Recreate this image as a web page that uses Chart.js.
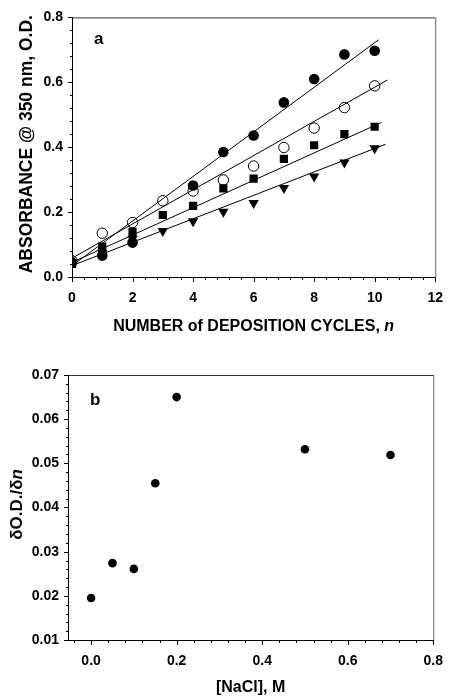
<!DOCTYPE html>
<html><head><meta charset="utf-8">
<script src="https://cdn.jsdelivr.net/npm/chart.js@4/dist/chart.umd.min.js"></script>
<style>
html,body{margin:0;padding:0;background:#fff;width:456px;height:698px;overflow:hidden}
canvas{position:absolute;left:0}
#c1{top:0}
#c2{top:345px}
</style></head><body>
<canvas id="c1" width="456" height="345"></canvas>
<canvas id="c2" width="456" height="353"></canvas>
<script>
// ---- Panel a data ----
const cycles = [0, 1, 2, 3, 4, 5, 6, 7, 8, 9, 10];
const filledCircle = [0.045, 0.066, 0.106, null, 0.282, 0.385, 0.436, 0.538, 0.610, 0.686, 0.697];
const openCircle   = [0.050, 0.135, 0.168, 0.235, 0.265, 0.299, 0.342, 0.399, 0.459, 0.522, 0.589];
const filledSquare = [0.040, 0.094, 0.139, 0.191, 0.219, 0.273, 0.303, 0.364, 0.406, 0.440, 0.463];
const downTriangle = [0.045, 0.075, 0.118, 0.142, 0.172, 0.201, 0.228, 0.274, 0.310, 0.353, 0.397];
// linear fit lines: [x start, x end], [y start, y end]
const fitFilledCircleX = [0, 10.13], fitFilledCircleY = [0.035, 0.731];
const fitOpenCircleX   = [0, 10.42], fitOpenCircleY   = [0.058, 0.607];
const fitSquareX       = [0, 10.22], fitSquareY       = [0.045, 0.476];
const fitTriangleX     = [0, 10.36], fitTriangleY     = [0.035, 0.409];
const ticksAX = [0, 2, 4, 6, 8, 10, 12];
const ticksAY = [0.0, 0.2, 0.4, 0.6, 0.8];

// ---- Panel b data ----
const nacl  = [0.0, 0.05, 0.10, 0.15, 0.20, 0.50, 0.70];
const slope = [0.0195, 0.0274, 0.0261, 0.0455, 0.0650, 0.0532, 0.0519];
const ticksBX = [0.0, 0.2, 0.4, 0.6, 0.8];
const ticksBY = [0.01, 0.02, 0.03, 0.04, 0.05, 0.06, 0.07];

const FONT = '"Liberation Sans", Arial, Helvetica, sans-serif';

function pts(xs, ys) {
  const out = [];
  xs.forEach((x, i) => { if (ys[i] !== null && ys[i] !== undefined) out.push({x: x, y: ys[i]}); });
  return out;
}

function fitDs(xs, ys) {
  return {data: pts(xs, ys), showLine: true, borderColor: '#000', borderWidth: 1,
          pointRadius: 0, pointHoverRadius: 0, fill: false, order: 10};
}

// plugin: frame, outward ticks (major+minor), titles and panel letters
function decor(cfg) {
  return {
    id: 'decor',
    afterDraw(chart) {
      const ctx = chart.ctx, a = chart.chartArea;
      const xs = chart.scales.x, ys = chart.scales.y;
      ctx.save();
      ctx.lineWidth = 1;
      ctx.strokeStyle = '#000';
      ctx.beginPath();
      ctx.moveTo(a.left + 0.5, a.top + 0.5);
      ctx.lineTo(a.left + 0.5, a.bottom + 0.5);
      ctx.lineTo(a.right + 0.5, a.bottom + 0.5);
      ctx.stroke();
      ctx.strokeStyle = '#333';
      ctx.beginPath();
      ctx.moveTo(a.left + 0.5, a.top + 0.5);
      ctx.lineTo(a.right + 0.5, a.top + 0.5);
      ctx.stroke();
      ctx.strokeStyle = '#666';
      ctx.beginPath();
      ctx.moveTo(a.right + 0.5, a.top + 0.5);
      ctx.lineTo(a.right + 0.5, a.bottom + 0.5);
      ctx.stroke();
      // ticks (outward)
      ctx.strokeStyle = '#000';
      const eps = 1e-9;
      for (let v = cfg.xMinorStart; v <= cfg.xMax + eps; v += cfg.xMinor) {
        const px = Math.round(xs.getPixelForValue(v)) + 0.5;
        const major = Math.abs(v / cfg.xMajor - Math.round(v / cfg.xMajor)) < 1e-6;
        const len = major ? 5 : 3;
        ctx.beginPath(); ctx.moveTo(px, a.bottom); ctx.lineTo(px, a.bottom + len); ctx.stroke();
      }
      for (let v = cfg.yMinorStart; v <= cfg.yMax + eps; v += cfg.yMinor) {
        const py = Math.round(ys.getPixelForValue(v)) + 0.5;
        const major = Math.abs((v - cfg.yMajorBase) / cfg.yMajor - Math.round((v - cfg.yMajorBase) / cfg.yMajor)) < 1e-6;
        const len = major ? 5 : 3;
        ctx.beginPath(); ctx.moveTo(a.left + 1, py); ctx.lineTo(a.left + 1 - len, py); ctx.stroke();
      }
      // panel letter
      ctx.fillStyle = '#000';
      ctx.font = 'bold 17px ' + FONT;
      ctx.textAlign = 'left';
      ctx.textBaseline = 'middle';
      ctx.fillText(cfg.letter, a.left + 22, a.top + cfg.letterDy);
      // x title (normal + italic part)
      drawMixed(ctx, cfg.xTitle, (a.left + a.right) / 2, a.bottom + cfg.xTitleDy);
      // y title
      ctx.save();
      ctx.translate(cfg.yTitleX, (a.top + a.bottom) / 2 + cfg.yTitleDy);
      ctx.rotate(-Math.PI / 2);
      drawMixed(ctx, cfg.yTitle, 0, 0);
      ctx.restore();
      ctx.restore();
    }
  };
}

function drawMixed(ctx, parts, cx, cy) {
  let total = 0;
  parts.forEach(p => { ctx.font = (p.italic ? 'italic ' : '') + 'bold ' + p.size + 'px ' + FONT; total += ctx.measureText(p.text).width; });
  let x = cx - total / 2;
  ctx.textAlign = 'left';
  ctx.textBaseline = 'middle';
  ctx.fillStyle = '#000';
  parts.forEach(p => {
    ctx.font = (p.italic ? 'italic ' : '') + 'bold ' + p.size + 'px ' + FONT;
    ctx.fillText(p.text, x, cy);
    x += ctx.measureText(p.text).width;
  });
}

const tickFont = {family: FONT, size: 14, weight: 'bold'};

// ---- Chart a ----
new Chart(document.getElementById('c1'), {
  type: 'scatter',
  data: {
    datasets: [
      Object.assign({label: 'fit1'}, fitDs(fitFilledCircleX, fitFilledCircleY)),
      Object.assign({label: 'fit2'}, fitDs(fitOpenCircleX, fitOpenCircleY)),
      Object.assign({label: 'fit3'}, fitDs(fitSquareX, fitSquareY)),
      Object.assign({label: 'fit4'}, fitDs(fitTriangleX, fitTriangleY)),
      {label: 'triangle', data: pts(cycles, downTriangle), pointStyle: 'triangle', rotation: 180,
       pointRadius: 6, backgroundColor: '#000', borderColor: '#000', borderWidth: 0, order: 4},
      {label: 'square', data: pts(cycles, filledSquare), pointStyle: 'rect',
       pointRadius: 5.8, backgroundColor: '#000', borderColor: '#000', borderWidth: 0, order: 3},
      {label: 'filled', data: pts(cycles, filledCircle), pointStyle: 'circle',
       pointRadius: 5.3, backgroundColor: '#000', borderColor: '#000', borderWidth: 0, order: 2},
      {label: 'open', data: pts(cycles, openCircle), pointStyle: 'circle',
       pointRadius: 5.2, backgroundColor: 'rgba(255,255,255,0)', borderColor: '#000', borderWidth: 1, order: 1}
    ]
  },
  options: {
    responsive: false, animation: false, events: [],
    layout: {padding: {top: 17, right: 10, left: 0, bottom: 0}},
    plugins: {legend: {display: false}, tooltip: {enabled: false}},
    scales: {
      x: {type: 'linear', min: 0, max: 12,
          afterBuildTicks: s => { s.ticks = ticksAX.map(v => ({value: v})); },
          afterFit: s => { s.height = 68; },
          grid: {display: false, drawTicks: false}, border: {display: false},
          ticks: {font: tickFont, color: '#000', padding: 13, maxRotation: 0,
                  callback: v => String(v)}},
      y: {type: 'linear', min: 0, max: 0.8,
          afterBuildTicks: s => { s.ticks = ticksAY.map(v => ({value: v})); },
          afterFit: s => { s.width = 72; },
          grid: {display: false, drawTicks: false}, border: {display: false},
          ticks: {font: tickFont, color: '#000', padding: 9,
                  callback: v => Number(v).toFixed(1)}}
    }
  },
  plugins: [decor({
    xMinorStart: 0, xMinor: 0.4, xMajor: 2, xMax: 12,
    yMinorStart: 0, yMinor: 0.04, yMajor: 0.2, yMajorBase: 0, yMax: 0.8,
    letter: 'a', letterDy: 22,
    xTitle: [{text: 'NUMBER of DEPOSITION CYCLES, ', size: 16}, {text: 'n', size: 16, italic: true}],
    xTitleDy: 50,
    yTitle: [{text: 'ABSORBANCE @ 350 nm, O.D.', size: 17.5}],
    yTitleX: 27, yTitleDy: -3
  })]
});

// ---- Chart b ----
new Chart(document.getElementById('c2'), {
  type: 'scatter',
  data: {
    datasets: [
      {label: 'slope', data: pts(nacl, slope), pointStyle: 'circle', pointRadius: 4.3,
       backgroundColor: '#000', borderColor: '#000', borderWidth: 0}
    ]
  },
  options: {
    responsive: false, animation: false, events: [],
    layout: {padding: {top: 30, right: 10, left: 0, bottom: 0}},
    plugins: {legend: {display: false}, tooltip: {enabled: false}},
    scales: {
      x: {type: 'linear', min: -0.054, max: 0.8,
          afterBuildTicks: s => { s.ticks = ticksBX.map(v => ({value: v})); },
          afterFit: s => { s.height = 58; },
          grid: {display: false, drawTicks: false}, border: {display: false},
          ticks: {font: tickFont, color: '#000', padding: 13, maxRotation: 0,
                  callback: v => Number(v).toFixed(1)}},
      y: {type: 'linear', min: 0.01, max: 0.07,
          afterBuildTicks: s => { s.ticks = ticksBY.map(v => ({value: v})); },
          afterFit: s => { s.width = 68; },
          grid: {display: false, drawTicks: false}, border: {display: false},
          ticks: {font: tickFont, color: '#000', padding: 9,
                  callback: v => Number(v).toFixed(2)}}
    }
  },
  plugins: [decor({
    xMinorStart: -0.04, xMinor: 0.04, xMajor: 0.2, xMax: 0.8,
    yMinorStart: 0.01, yMinor: 0.002, yMajor: 0.01, yMajorBase: 0.01, yMax: 0.07,
    letter: 'b', letterDy: 25,
    xTitle: [{text: '[NaCl], M', size: 16}],
    xTitleDy: 48,
    yTitle: [{text: 'δO.D./δ', size: 17}, {text: 'n', size: 17, italic: true}],
    yTitleX: 17, yTitleDy: -3
  })]
});
</script>
</body></html>
